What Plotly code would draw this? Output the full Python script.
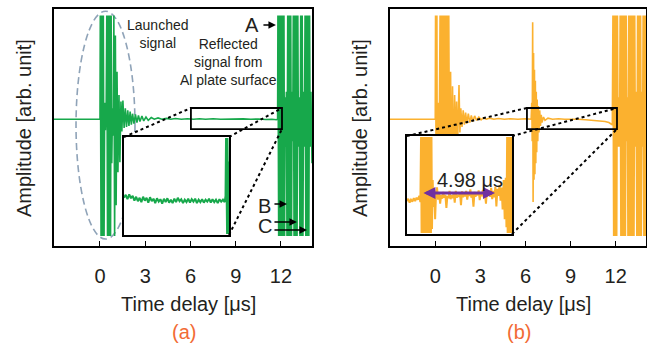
import plotly.graph_objects as go

# ---------------- data ----------------
tick_vals = [0, 3, 6, 9, 12]
tick_text = ["0", "3", "6", "9", "12"]

# Panel (a): main waveform, (time [us], amplitude [arb.])
wave_a = [(-3.05, 0.0), (-0.02, 0.0), (0.00, 0.0), (0.02, 0.94), (0.07, -1.06), (0.12, 0.94),
          (0.17, -1.06), (0.22, 0.94), (0.27, -1.06), (0.31, 0.15), (0.36, -0.10), (0.41, 0.10),
          (0.45, 0.94), (0.50, -1.06), (0.55, 0.94), (0.60, -1.06), (0.65, 0.94), (0.70, -1.06),
          (0.74, 0.94), (0.78, -0.40), (0.83, 0.10), (0.88, -0.15), (0.92, 0.94), (0.97, -1.06),
          (1.02, 0.76), (1.07, -0.78), (1.13, 0.43), (1.19, -0.48), (1.26, 0.22), (1.32, -0.39),
          (1.39, 0.16), (1.45, -0.11), (1.52, 0.17), (1.60, -0.08), (1.68, 0.10), (1.76, -0.07),
          (1.84, 0.08), (1.92, -0.06), (2.00, 0.07), (2.08, -0.05), (2.16, 0.05), (2.25, -0.04),
          (2.35, 0.045), (2.45, -0.03), (2.55, 0.035), (2.65, -0.02), (2.78, 0.03), (2.90, -0.015),
          (3.05, 0.02), (3.20, -0.01), (3.40, 0.015), (3.60, 0.0), (3.85, 0.012), (4.10, 0.0),
          (4.40, 0.008), (4.70, 0.0), (5.00, 0.006), (5.40, 0.0), (5.80, 0.005), (6.20, 0.0),
          (6.60, 0.004), (7.00, 0.0), (7.50, 0.004), (8.00, 0.0), (8.50, 0.003), (9.00, 0.0),
          (9.50, 0.003), (10.00, 0.0), (10.50, 0.002), (11.00, -0.003), (11.40, 0.0), (11.70, -0.005),
          (11.78, 0.0), (11.80, 0.94), (11.85, -1.06), (11.90, 0.94), (11.95, -1.06), (12.00, 0.94),
          (12.05, -1.06), (12.10, 0.94), (12.15, -1.06), (12.20, 0.94), (12.24, -1.06), (12.28, 0.20),
          (12.32, -0.25), (12.36, 0.25), (12.40, -1.06), (12.45, 0.94), (12.50, -1.06), (12.55, 0.94),
          (12.60, -1.06), (12.65, 0.94), (12.70, -1.06), (12.74, 0.25), (12.78, -0.20), (12.82, 0.94),
          (12.87, -1.06), (12.92, 0.94), (12.97, -1.06), (13.02, 0.94), (13.07, -1.06), (13.12, 0.94),
          (13.16, -0.25), (13.21, 0.20), (13.26, -1.06), (13.31, 0.94), (13.36, -1.06), (13.41, 0.94),
          (13.46, -1.06), (13.50, 0.25), (13.55, -0.25), (13.60, 0.94), (13.65, -1.06), (13.70, 0.94),
          (13.75, -1.06), (13.80, 0.94), (13.85, -1.06), (13.90, 0.94), (13.94, -0.25), (13.99, 0.25),
          (14.06, -0.40)]

# Panel (a): magnified inset
wave_ins_a = [(6.05, -0.24), (6.15, -0.18), (6.25, -0.27), (6.35, -0.17), (6.45, -0.25), (6.55, -0.20),
              (6.65, -0.30), (6.75, -0.22), (6.85, -0.31), (6.95, -0.24), (7.05, -0.33), (7.15, -0.22),
              (7.25, -0.30), (7.35, -0.24), (7.45, -0.34), (7.55, -0.23), (7.65, -0.31), (7.75, -0.26),
              (7.85, -0.35), (7.95, -0.25), (8.05, -0.32), (8.15, -0.27), (8.25, -0.36), (8.35, -0.26),
              (8.45, -0.33), (8.55, -0.25), (8.65, -0.34), (8.75, -0.28), (8.85, -0.35), (8.95, -0.26),
              (9.05, -0.33), (9.15, -0.24), (9.25, -0.31), (9.35, -0.27), (9.45, -0.35), (9.55, -0.28),
              (9.65, -0.33), (9.75, -0.26), (9.85, -0.34), (9.95, -0.27), (10.05, -0.32), (10.15, -0.26),
              (10.25, -0.35), (10.35, -0.28), (10.45, -0.33), (10.55, -0.27), (10.65, -0.34),
              (10.75, -0.28), (10.85, -0.32), (10.95, -0.26), (11.05, -0.34), (11.15, -0.27),
              (11.25, -0.33), (11.35, -0.28), (11.45, -0.35), (11.55, -0.27), (11.65, -0.32),
              (11.75, -0.28), (11.85, -0.33), (11.90, -0.20), (11.93, 0.98), (11.95, -0.98),
              (11.97, 0.98), (11.99, -0.98), (12.01, 0.98), (12.03, -0.98), (12.05, 0.98),
              (12.07, -0.98), (12.10, 0.50)]

# Panel (b): main waveform
wave_b = [(-3.05, 0.0), (-0.02, 0.0), (0.00, 0.0), (0.02, 0.94), (0.07, -1.06), (0.11, 0.94),
          (0.14, -1.06), (0.18, 0.15), (0.23, -0.20), (0.28, 0.10), (0.32, 0.94), (0.37, -1.06),
          (0.42, 0.94), (0.46, -0.30), (0.50, 0.94), (0.55, -1.06), (0.60, 0.94), (0.65, -1.06),
          (0.70, 0.94), (0.75, -1.06), (0.80, 0.94), (0.85, -1.06), (0.90, 0.94), (0.96, -0.80),
          (1.02, 0.43), (1.08, -0.60), (1.15, 0.30), (1.22, -0.45), (1.29, 0.22), (1.36, -0.30),
          (1.42, 0.16), (1.48, -0.25), (1.53, 0.12), (1.58, 0.31), (1.64, -0.12), (1.70, 0.10),
          (1.78, -0.07), (1.86, 0.08), (1.94, -0.05), (2.02, 0.06), (2.10, -0.04), (2.20, 0.05),
          (2.30, -0.03), (2.40, 0.035), (2.50, -0.02), (2.62, 0.03), (2.75, -0.01), (2.90, 0.02),
          (3.05, -0.005), (3.20, 0.012), (3.40, 0.0), (3.60, 0.01), (3.90, 0.0), (4.20, 0.006),
          (4.60, 0.0), (5.00, 0.005), (5.50, 0.0), (6.00, 0.004), (6.38, 0.0), (6.42, 0.15),
          (6.45, -0.20), (6.48, 0.88), (6.51, -0.75), (6.54, 0.60), (6.57, -0.55), (6.60, 0.45),
          (6.63, -0.50), (6.66, 0.35), (6.69, -0.40), (6.72, 0.25), (6.75, -0.30), (6.78, 0.18),
          (6.82, -0.20), (6.86, 0.12), (6.90, -0.12), (6.95, 0.08), (7.00, -0.06), (7.05, 0.04),
          (7.10, -0.03), (7.20, 0.02), (7.30, -0.01), (7.50, 0.01), (7.80, 0.0), (8.20, 0.004),
          (8.60, 0.0), (9.00, 0.003), (9.50, 0.0), (10.00, -0.005), (10.50, -0.01), (11.00, -0.015),
          (11.30, -0.02), (11.55, -0.03), (11.70, -0.045), (11.78, -0.05), (11.82, 0.94),
          (11.87, -1.06), (11.92, 0.94), (11.97, -1.06), (12.02, 0.94), (12.07, -1.06), (12.12, 0.94),
          (12.16, -0.25), (12.21, 0.20), (12.26, -0.25), (12.30, 0.94), (12.35, -1.06), (12.40, 0.94),
          (12.45, -1.06), (12.50, 0.94), (12.55, -1.06), (12.60, 0.94), (12.65, -1.06), (12.70, 0.94),
          (12.74, -0.20), (12.78, 0.20), (12.82, -1.06), (12.87, 0.94), (12.92, -1.06), (12.97, 0.94),
          (13.02, -1.06), (13.07, 0.94), (13.12, -1.06), (13.17, 0.94), (13.22, -1.06), (13.27, 0.94),
          (13.31, -0.25), (13.36, 0.25), (13.41, -1.06), (13.46, 0.94), (13.51, -1.06), (13.56, 0.94),
          (13.61, -1.06), (13.66, 0.94), (13.71, -1.06), (13.75, 0.25), (13.79, -0.25), (13.83, 0.94),
          (13.88, -1.06), (13.93, 0.94), (13.98, -1.06), (14.03, 0.94), (14.08, -1.06)]

# Panel (b): magnified inset
wave_ins_b = [(6.05, -0.33), (6.12, -0.28), (6.20, -0.36), (6.28, -0.30), (6.36, -0.34), (6.44, -0.27),
              (6.52, -0.33), (6.60, -0.26), (6.68, -0.30), (6.76, -0.22), (6.82, -0.35), (6.86, 0.98),
              (6.89, -0.98), (6.92, 0.98), (6.95, -0.98), (6.98, 0.98), (7.01, -0.98), (7.04, 0.98),
              (7.07, -0.98), (7.10, 0.98), (7.13, -0.98), (7.16, 0.98), (7.19, -0.98), (7.22, 0.98),
              (7.25, -0.98), (7.28, 0.98), (7.31, -0.98), (7.34, 0.98), (7.37, -0.98), (7.40, 0.98),
              (7.43, -0.98), (7.46, 0.98), (7.49, -0.90), (7.53, 0.10), (7.57, -0.45), (7.62, -0.10),
              (7.67, -0.70), (7.72, -0.20), (7.78, -0.05), (7.84, -0.30), (7.90, -0.18), (7.96, -0.38),
              (8.02, -0.20), (8.08, -0.28), (8.14, -0.14), (8.20, -0.26), (8.26, -0.20), (8.32, -0.47),
              (8.38, -0.22), (8.44, -0.27), (8.50, -0.12), (8.56, -0.29), (8.62, -0.21), (8.68, -0.27),
              (8.74, -0.16), (8.80, -0.36), (8.86, -0.12), (8.92, -0.26), (8.98, -0.20), (9.04, -0.24),
              (9.10, -0.15), (9.16, -0.41), (9.22, -0.13), (9.28, -0.25), (9.34, -0.18), (9.40, -0.23),
              (9.46, -0.12), (9.52, -0.30), (9.58, -0.17), (9.64, -0.22), (9.70, -0.09), (9.76, -0.26),
              (9.82, -0.18), (9.88, -0.44), (9.94, -0.14), (10.00, -0.24), (10.06, -0.16),
              (10.12, -0.21), (10.18, -0.11), (10.24, -0.31), (10.30, -0.15), (10.36, -0.23),
              (10.42, -0.10), (10.48, -0.26), (10.54, -0.17), (10.60, -0.38), (10.66, -0.10),
              (10.72, -0.22), (10.78, -0.15), (10.84, -0.24), (10.90, -0.06), (10.96, -0.29),
              (11.02, -0.12), (11.08, -0.25), (11.14, -0.04), (11.20, -0.44), (11.26, -0.08),
              (11.32, -0.22), (11.38, 0.00), (11.44, -0.32), (11.50, -0.05), (11.56, -0.50),
              (11.62, 0.10), (11.68, -0.70), (11.74, 0.15), (11.78, -0.86), (11.82, 0.98),
              (11.85, -0.98), (11.88, 0.98), (11.91, -0.98), (11.94, 0.98), (11.97, -0.98),
              (12.00, 0.98), (12.03, -0.98), (12.06, 0.98), (12.10, -0.98)]

# ---------------- layout geometry ----------------
W, H = 647, 347
GREEN = "#17A84B"
ORANGE = "#FBB12F"
TXT = "#231F20"
FONT = "Liberation Sans, Arial, sans-serif"

xa_dom = [54 / W, 312 / W]
xb_dom = [390 / W, 646 / W]
y_dom = [1 - 246 / H, 1 - 9 / H]
xa_rng = [-3.05, 14.06]
xb_rng = [-3.01, 14.02]
y_rng = [-1.15, 1.0]
ia_xdom = [124 / W, 229 / W]
ia_ydom = [1 - 235 / H, 1 - 137 / H]
ib_xdom = [407 / W, 512 / W]
ib_ydom = [1 - 234 / H, 1 - 136 / H]
ins_xrng = [6.05, 12.1]
ins_yrng = [-1.0, 1.0]


def px(v, dom, rng):
    return dom[0] + (v - rng[0]) / (rng[1] - rng[0]) * (dom[1] - dom[0])


def cols(w):
    return [p[0] for p in w], [p[1] for p in w]


fig = go.Figure()
for w, col, xa, ya in [(wave_a, GREEN, "x", "y"), (wave_b, ORANGE, "x2", "y2")]:
    tt, aa = cols(w)
    fig.add_trace(go.Scatter(x=tt, y=aa, mode="lines", line=dict(color=col, width=1.6),
                             xaxis=xa, yaxis=ya, showlegend=False, hoverinfo="skip"))
# inset backgrounds (white, covering main traces) then inset signals
for xa, ya, w, col in [("x3", "y3", wave_ins_a, GREEN), ("x4", "y4", wave_ins_b, ORANGE)]:
    fig.add_trace(go.Scatter(x=[ins_xrng[0], ins_xrng[1], ins_xrng[1], ins_xrng[0]],
                             y=[ins_yrng[0], ins_yrng[0], ins_yrng[1], ins_yrng[1]],
                             fill="toself", fillcolor="white", mode="lines",
                             line=dict(width=0, color="white"),
                             xaxis=xa, yaxis=ya, showlegend=False, hoverinfo="skip"))
    tt, aa = cols(w)
    fig.add_trace(go.Scatter(x=tt, y=aa, mode="lines", line=dict(color=col, width=2),
                             xaxis=xa, yaxis=ya, showlegend=False, hoverinfo="skip"))

main_x = dict(showline=True, mirror=True, linecolor="black", linewidth=1.6,
              ticks="inside", ticklen=5, tickwidth=1.4, tickcolor="black",
              tickvals=tick_vals, ticktext=tick_text, showgrid=False, zeroline=False,
              tickfont=dict(size=20, color=TXT, family=FONT), ticklabelstandoff=11,
              fixedrange=True)
main_y = dict(showline=True, mirror=True, linecolor="black", linewidth=1.6,
              showticklabels=False, ticks="", showgrid=False, zeroline=False,
              range=y_rng, domain=y_dom, fixedrange=True)
ins_ax = dict(showline=True, mirror=True, linecolor="black", linewidth=1.6,
              showticklabels=False, ticks="", showgrid=False, zeroline=False, fixedrange=True)

fig.update_layout(
    width=W, height=H, autosize=False,
    margin=dict(l=0, r=0, t=0, b=0),
    paper_bgcolor="white", plot_bgcolor="white",
    font=dict(family=FONT, color=TXT),
    xaxis=dict(main_x, domain=xa_dom, range=xa_rng, anchor="y"),
    yaxis=dict(main_y, anchor="x"),
    xaxis2=dict(main_x, domain=xb_dom, range=xb_rng, anchor="y2"),
    yaxis2=dict(main_y, anchor="x2"),
    xaxis3=dict(ins_ax, domain=ia_xdom, range=ins_xrng, anchor="y3"),
    yaxis3=dict(ins_ax, domain=ia_ydom, range=ins_yrng, anchor="x3"),
    xaxis4=dict(ins_ax, domain=ib_xdom, range=ins_xrng, anchor="y4"),
    yaxis4=dict(ins_ax, domain=ib_ydom, range=ins_yrng, anchor="x4"),
)

shapes = []
# dashed ellipse around launched signal (panel a)
shapes.append(dict(type="circle", xref="x", yref="y", x0=-1.59, x1=2.32, y0=-1.087, y1=0.98,
                   line=dict(color="#8FA3B8", width=1.6, dash="7px,4px"), layer="below"))
# zoom boxes and dotted connectors
for xr, yr, xdom, xrng, bx0, bx1, idx, idy in [
        ("x", "y", xa_dom, xa_rng, 6.03, 12.07, ia_xdom, ia_ydom),
        ("x2", "y2", xb_dom, xb_rng, 6.10, 12.09, ib_xdom, ib_ydom)]:
    by0, by1 = -0.089, 0.102
    shapes.append(dict(type="rect", xref=xr, yref=yr, x0=bx0, x1=bx1, y0=by0, y1=by1,
                       line=dict(color="black", width=1.8), layer="above"))
    X0, X1 = px(bx0, xdom, xrng), px(bx1, xdom, xrng)
    Y0, Y1 = px(by0, y_dom, y_rng), px(by1, y_dom, y_rng)
    for (ax_, ay_, bx_, by_) in [(idx[0], idy[1], X0, Y1),
                                 (idx[1], idy[1], X1, Y1),
                                 (idx[1], idy[0], X1, Y0)]:
        shapes.append(dict(type="line", xref="paper", yref="paper", x0=ax_, y0=ay_, x1=bx_, y1=by_,
                           line=dict(color="black", width=2, dash="dot"), layer="above"))
fig.update_layout(shapes=shapes)

ann = []
# axis titles and panel labels
for xc, yt_x, lab in [(188 / W, 24 / W, "(a)"), (523 / W, 360 / W, "(b)")]:
    ann.append(dict(x=xc, y=1 - 304 / H, xref="paper", yref="paper", text="Time delay [μs]",
                    showarrow=False, font=dict(size=20, color=TXT), xanchor="center", yanchor="middle"))
    ann.append(dict(x=yt_x, y=1 - 128 / H, xref="paper", yref="paper", text="Amplitude [arb. unit]",
                    textangle=-90, showarrow=False, font=dict(size=20, color=TXT),
                    xanchor="center", yanchor="middle"))
    ann.append(dict(x=xc - 4 / W, y=1 - 332 / H, xref="paper", yref="paper", text=lab,
                    showarrow=False, font=dict(size=20, color="#F26B35"),
                    xanchor="center", yanchor="middle"))

ann.append(dict(x=3.85, y=0.77, xref="x", yref="y", text="Launched<br>signal", showarrow=False,
                font=dict(size=14, color=TXT), align="center"))
ann.append(dict(x=8.49, y=0.52, xref="x", yref="y", text="Reflected<br>signal from<br>Al plate surface",
                showarrow=False, font=dict(size=14, color=TXT), align="center"))
# A, B, C labels and arrows
for lab, lx, ly in [("A", 10.08, 0.855), ("B", 10.94, -0.788), ("C", 10.94, -0.969)]:
    ann.append(dict(x=lx, y=ly, xref="x", yref="y", text=lab, showarrow=False,
                    font=dict(size=20, color=TXT)))
for x0, x1, yy in [(10.74, 11.67, 0.855), (11.47, 12.40, -0.77), (11.47, 13.06, -0.933),
                   (11.47, 13.73, -1.005)]:
    ann.append(dict(x=x1, y=yy, ax=x0, ay=yy, xref="x", yref="y", axref="x", ayref="y", text="",
                    showarrow=True, arrowhead=2, arrowsize=1, arrowwidth=1.5, arrowcolor="black"))
# 4.98 us marker in inset (b)
ann.append(dict(x=11.12, y=-0.163, ax=6.91, ay=-0.163, xref="x4", yref="y4", axref="x4", ayref="y4",
                text="", showarrow=True, arrowhead=2, startarrowhead=2, arrowside="end+start",
                arrowsize=0.8, startarrowsize=0.8, arrowwidth=3, arrowcolor="#7030A0"))
ann.append(dict(x=9.68, y=0.10, xref="x4", yref="y4", text="4.98 μs", showarrow=False,
                font=dict(size=20, color=TXT)))
fig.update_layout(annotations=ann)

fig.write_html("out.html", config={"displayModeBar": False},
               post_script="document.body.style.margin='0';")
